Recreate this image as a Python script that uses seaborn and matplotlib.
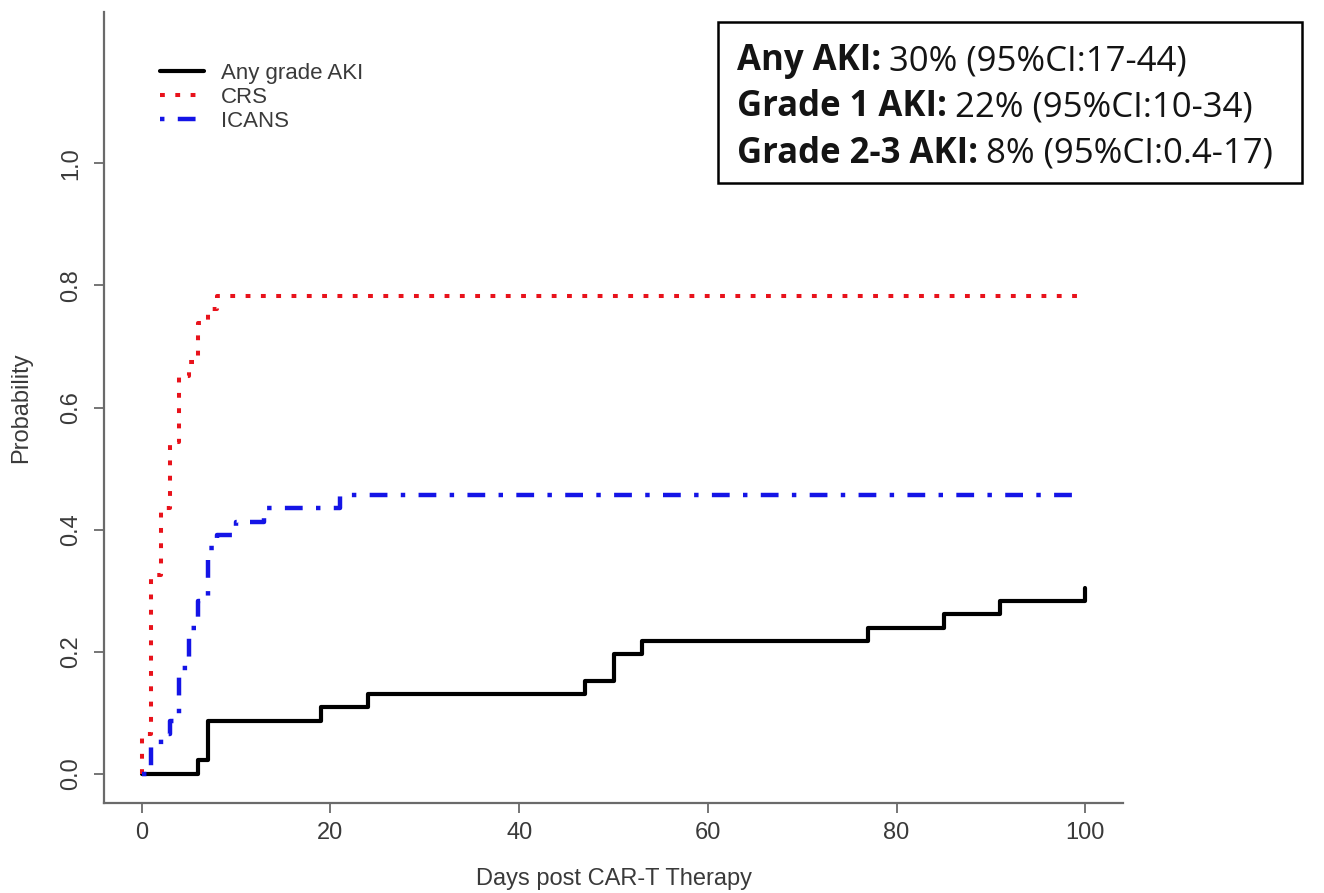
import matplotlib
matplotlib.use("Agg")
import matplotlib.pyplot as plt
import seaborn as sns
from matplotlib.patches import Rectangle

# ---- data ----
aki_days = [0, 6, 7, 19, 24, 47, 50, 53, 77, 85, 91, 100]
aki_prob = [0.0, 0.022, 0.087, 0.109, 0.130, 0.152, 0.196, 0.217, 0.239, 0.261, 0.283, 0.304]

crs_days = [0, 0, 1, 2, 3, 4, 5, 6, 7, 8, 100]
crs_prob = [0.0, 0.065, 0.326, 0.435, 0.543, 0.652, 0.674, 0.739, 0.761, 0.783, 0.783]

icans_days = [0, 1, 2, 3, 4, 5, 6, 7, 8, 10, 13, 21, 100]
icans_prob = [0.0, 0.043, 0.065, 0.087, 0.174, 0.239, 0.283, 0.370, 0.391, 0.413, 0.435, 0.457, 0.457]

series_labels = ["Any grade AKI", "CRS", "ICANS"]
x_ticks = [0, 20, 40, 60, 80, 100]
y_ticks = [0.0, 0.2, 0.4, 0.6, 0.8, 1.0]
y_tick_labels = ["0.0", "0.2", "0.4", "0.6", "0.8", "1.0"]
x_label = "Days post CAR-T Therapy"
y_label = "Probability"
box_bold = ["Any AKI:", "Grade 1 AKI:", "Grade 2-3 AKI:"]
box_regular = ["30% (95%CI:17-44)", "22% (95%CI:10-34)", "8% (95%CI:0.4-17)"]

# ---- style ----
sns.set_theme(style="white")
plt.rcParams["font.family"] = ["Liberation Sans", "DejaVu Sans"]

W, H = 1324, 893
fig = plt.figure(figsize=(W / 100, H / 100), dpi=100)
ax = fig.add_axes([104 / W, 1 - 803 / H, (1123 - 104) / W, (803 - 12) / H])

common = dict(ax=ax, drawstyle="steps-post", estimator=None, sort=False)
sns.lineplot(x=aki_days, y=aki_prob, color="black", linewidth=3.0,
             linestyle="-", label=series_labels[0], **common)
sns.lineplot(x=crs_days, y=crs_prob, color="#e8121b", linewidth=2.9,
             linestyle=(0, (1.2, 2.6)), label=series_labels[1], **common)
sns.lineplot(x=icans_days, y=icans_prob, color="#1414e6", linewidth=3.2,
             linestyle=(0, (1, 3, 4, 3)), label=series_labels[2], **common)

ax.set_xlim(-4, 104)
ax.set_ylim(-0.048, 1.248)
for s in ["top", "right"]:
    ax.spines[s].set_visible(False)
for s in ["left", "bottom"]:
    ax.spines[s].set_color("#6a6a6a")
    ax.spines[s].set_linewidth(1.6)

ax.set_xticks(x_ticks)
ax.set_xticklabels([str(v) for v in x_ticks])
ax.set_yticks(y_ticks)
ax.set_yticklabels(y_tick_labels, rotation=90, va="center")
ax.tick_params(axis="both", which="both", bottom=True, left=True, direction="out",
               length=7.5, width=1.3, color="#6a6a6a", labelsize=17,
               labelcolor="#3a3a3a")
ax.tick_params(axis="x", pad=6)
ax.tick_params(axis="y", pad=8)

ax.set_xlabel(x_label, fontsize=17, color="#3a3a3a")
ax.set_ylabel(y_label, fontsize=17, color="#3a3a3a")
ax.xaxis.set_label_coords(0.5, -0.082)
ax.yaxis.set_label_coords(-0.071, 0.5)

ax.legend(loc="upper left", bbox_to_anchor=(0.055, 0.936), frameon=False,
          fontsize=16, handlelength=2.0, handletextpad=0.75, labelspacing=0.14,
          borderpad=0, borderaxespad=0, labelcolor="#3a3a3a")

# ---- annotation box ----
fig.add_artist(Rectangle((718 / W, 1 - 183 / H), 584 / W, 161 / H,
                         transform=fig.transFigure, fill=False,
                         edgecolor="black", linewidth=1.8))
fig.canvas.draw()
renderer = fig.canvas.get_renderer()
box_fs = 25
box_font = ["Open Sans", "DejaVu Sans"]
baselines = [70, 116, 163]
for b, r, yb in zip(box_bold, box_regular, baselines):
    t = fig.text(737 / W, 1 - yb / H, b, fontsize=box_fs, fontweight="bold",
                 family=box_font, va="baseline", color="#141414")
    bb = t.get_window_extent(renderer)
    fig.text((bb.x1 + 0.22 * box_fs * 100 / 72) / W, 1 - yb / H, r, fontsize=box_fs,
             family=box_font, va="baseline", color="#141414")

fig.savefig("out.png", dpi=100)
